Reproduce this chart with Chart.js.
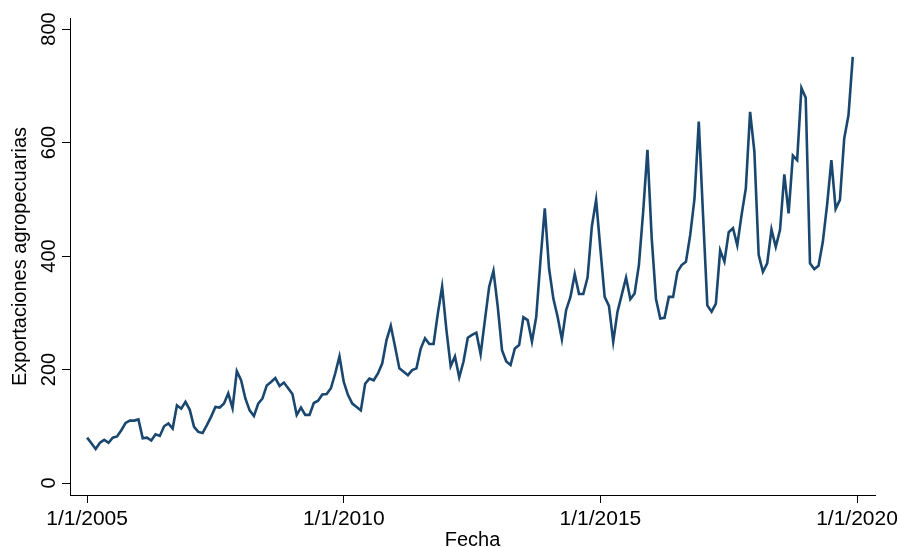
<!DOCTYPE html>
<html>
<head>
<meta charset="utf-8">
<script src="https://cdn.jsdelivr.net/npm/chart.js@4/dist/chart.umd.min.js"></script>
<style>
  html, body { margin: 0; padding: 0; background: #fff; }
  canvas { display: block; }
</style>
</head>
<body>
<canvas id="chart" width="900" height="547"></canvas>
<script>
// monthly values, Jan 2005 .. Dec 2019
const exportaciones = [
  80, 70, 60, 71, 76, 71, 80, 82, 93, 106, 110, 110,
  112, 79, 80, 75, 86, 83, 100, 105, 96, 137, 131, 143,
  129, 99, 90, 88, 102, 117, 134, 133, 140, 158, 132, 197,
  181, 149, 128, 118, 140, 149, 172, 178, 185, 171, 177, 167,
  157, 120, 133, 120, 120, 141, 145, 156, 157, 167, 193, 223,
  178, 155, 140, 134, 128, 175, 184, 181, 193, 211, 252, 277,
  240, 202, 196, 190, 199, 202, 237, 255, 245, 245, 299, 346,
  270, 206, 223, 186, 214, 256, 261, 265, 227, 287, 346, 374,
  311, 234, 214, 208, 237, 243, 292, 287, 249, 293, 393, 484,
  378, 325, 293, 253, 305, 328, 368, 333, 333, 362, 452, 499,
  412, 328, 312, 249, 302, 332, 362, 324, 334, 384, 478, 587,
  431, 324, 290, 291, 328, 328, 372, 384, 390, 437, 501, 637,
  472, 313, 302, 316, 410, 390, 442, 449, 419, 472, 519, 654,
  584, 402, 372, 387, 447, 416, 446, 544, 475, 577, 569, 696,
  679, 387, 377, 383, 425, 490, 569, 483, 499, 607, 648, 751
];

// month offsets from Jan 2005 where the date ticks go
const xTickMonths = [0, 60, 120, 180];
const xTickLabels = ['1/1/2005', '1/1/2010', '1/1/2015', '1/1/2020'];
const yTickValues = [0, 200, 400, 600, 800];

const navy = '#1a476f';
const font = { family: '"Liberation Sans", Arial, sans-serif', size: 20 };
const xTickFont = { family: '"Liberation Sans", Arial, sans-serif', size: 21 };

const points = exportaciones.map((v, i) => ({ x: i, y: v }));

const ctx = document.querySelector('#chart').getContext('2d');
const chart = new Chart(ctx, {
  type: 'line',
  data: {
    datasets: [{
      data: points,
      borderColor: navy,
      borderWidth: 2.6,
      pointRadius: 0,
      tension: 0,
      fill: false
    }]
  },
  options: {
    responsive: false,
    animation: false,
    events: [],
    layout: { padding: { top: 18, right: 25, left: 0, bottom: 0 } },
    plugins: {
      legend: { display: false },
      tooltip: { enabled: false }
    },
    scales: {
      x: {
        type: 'linear',
        min: -4,
        max: 184.2,
        afterFit: (scale) => {
          scale.height = 52;
          // let the last date label run off the edge like the original
          scale.paddingRight = 0;
          scale.paddingLeft = 0;
        },
        afterBuildTicks: (scale) => {
          scale.ticks = xTickMonths.map(m => ({ value: m }));
        },
        ticks: {
          autoSkip: false,
          maxRotation: 0,
          color: '#000',
          font: xTickFont,
          padding: 4,
          callback: (value) => xTickLabels[xTickMonths.indexOf(value)]
        },
        grid: { drawOnChartArea: false, drawTicks: true, tickLength: 8, color: '#000' },
        border: { display: true, color: '#000', width: 1 },
        title: {
          display: true,
          text: 'Fecha',
          color: '#000',
          font: font,
          padding: { top: 0, bottom: -5 }
        }
      },
      y: {
        type: 'linear',
        min: -21.1,
        max: 819.4,
        afterFit: (scale) => { scale.width = 70; },
        afterBuildTicks: (scale) => {
          scale.ticks = yTickValues.map(v => ({ value: v }));
        },
        ticks: {
          autoSkip: false,
          minRotation: 90,
          maxRotation: 90,
          crossAlign: 'center',
          padding: -4,
          color: '#000',
          font: font
        },
        grid: { drawOnChartArea: false, drawTicks: true, tickLength: 8, color: '#000' },
        border: { display: true, color: '#000', width: 1 },
        title: {
          display: true,
          text: 'Exportaciones agropecuarias',
          color: '#000',
          font: font,
          padding: { top: 8, bottom: 0 }
        }
      }
    }
  }
});
</script>
</body>
</html>
